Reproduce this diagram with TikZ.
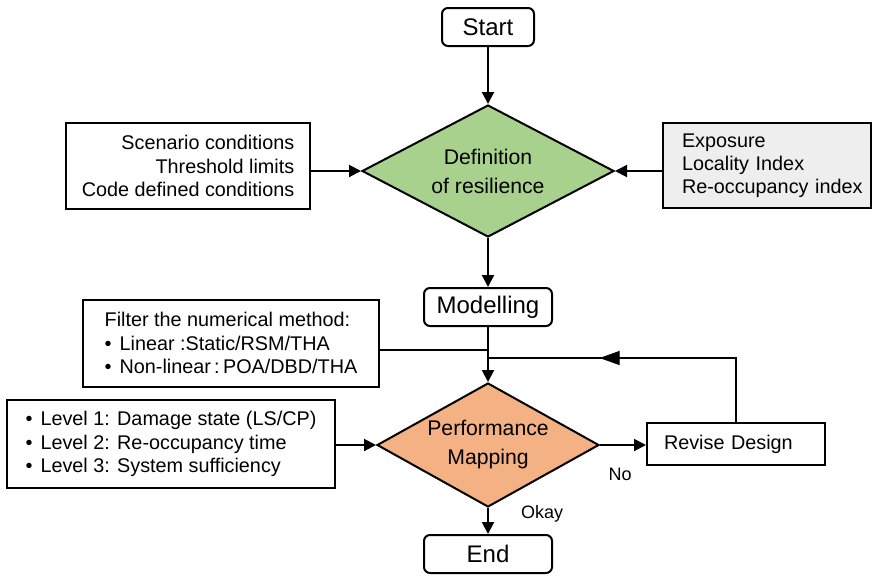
\documentclass[tikz,border=0pt]{standalone}
\usepackage{fontspec}
\setmainfont{Liberation Sans}
\usetikzlibrary{positioning,calc,arrows.meta,shapes.geometric}
\definecolor{defgreen}{HTML}{A9D18E}
\definecolor{perforange}{HTML}{F4B183}
\definecolor{infogray}{HTML}{EEEEEE}

\begin{document}
\begin{tikzpicture}[x=0.5pt,y=-0.5pt,
  >={Triangle[length=6pt,width=6pt]},
  flowline/.style={line width=1pt,->},
  thinline/.style={line width=0.6pt},
  termbox/.style={draw,line width=1pt,rounded corners=3pt,minimum height=19pt,
    font=\fontsize{12}{14}\selectfont},
  decision/.style={diamond,aspect=1.8,draw,line width=1pt,inner sep=0pt,align=center,
    font=\fontsize{10.6}{14.5}\selectfont},
  infobox/.style={draw,line width=1pt,inner sep=0pt,
    font=\fontsize{9.9}{11.6}\selectfont},
  flowlabel/.style={font=\fontsize{9}{11}\selectfont}]
  \useasboundingbox (0,0) rectangle (872,575);
  % main column
  \node[termbox,minimum width=46pt] (start) at (488,27) {Start};
  \node[decision,fill=defgreen,minimum width=126pt,minimum height=66pt]
    (defres) at (488,171) {Definition\\of resilience};
  \node[termbox,minimum width=64pt] (model) at (488,307) {Modelling};
  \node[decision,fill=perforange,minimum width=111pt,minimum height=62pt]
    (perf) at (488,445) {Performance\\Mapping};
  \node[termbox,minimum width=64pt] (end) at (488,554) {End};
  % side boxes
  \node[infobox,minimum width=122pt,minimum height=43pt,align=right]
    (scen) at (188,166) {Scenario conditions\\Threshold limits\\Code defined conditions};
  \node[infobox,fill=infogray,minimum width=104pt,minimum height=42.5pt,
    text width=104pt,align=left]
    (expo) at (767,165.5) {\leftskip=9.5pt Exposure\\Locality Index\\Re-occupancy index\par};
  \node[infobox,minimum width=148pt,minimum height=43.5pt,align=left]
    (filter) at (231,343) {Filter the numerical method:\\
      \textbullet\hspace{4pt}Linear :Static/RSM/THA\\
      \textbullet\hspace{4pt}Non-linear\,:\,POA/DBD/THA};
  \node[infobox,minimum width=164pt,minimum height=44pt,align=left]
    (levels) at (171,444) {\textbullet\hspace{4pt}Level 1: Damage state (LS/CP)\\
      \textbullet\hspace{4pt}Level 2: Re-occupancy time\\
      \textbullet\hspace{4pt}Level 3: System sufficiency};
  \node[infobox,minimum width=89pt,minimum height=21pt,text width=72pt,
    inner xsep=8.5pt,align=left] (revise) at (736,444) {Revise Design};
  \node[flowlabel] (no) at (620,474) {No};
  \node[flowlabel] (okay) at (542,514) {Okay};
  % connectors
  \draw[flowline] (start) -- (defres);
  \draw[flowline] (scen.east |- defres.west) -- (defres.west);
  \draw[flowline] (expo.west |- defres.east) -- (defres.east);
  \draw[flowline] (defres) -- (model);
  \draw[flowline] (model) -- (perf);
  \coordinate (filterin) at (488,350);
  \draw[thinline] (filter.east |- filterin) -- (filterin);
  \draw[flowline] (levels.east |- perf.west) -- (perf.west);
  \draw[flowline] (perf.east) -- (revise.west |- perf.east);
  \draw[flowline] (perf) -- (end);
  % revise loop
  \coordinate (loopin) at (488,358);
  \draw[thinline] (revise.north) |- (loopin);
  \draw[thinline,-{Triangle[length=10pt,width=7pt]}]
    (revise.north |- loopin) -- ($(revise.north |- loopin)!0.55!(loopin)$);
\end{tikzpicture}
\end{document}
